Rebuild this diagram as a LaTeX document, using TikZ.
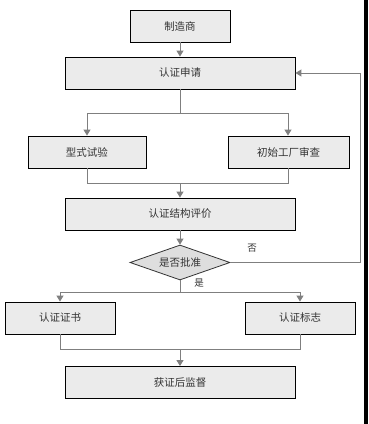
\documentclass[tikz,border=0pt]{standalone}
\usepackage{fontspec}
\setmainfont{Noto Sans CJK SC}
\usetikzlibrary{shapes.geometric,arrows.meta}
\definecolor{boxfill}{HTML}{EBEBEB}
\definecolor{diafill}{HTML}{DEDEDE}
\definecolor{linegray}{HTML}{7F7F7F}
\definecolor{txt}{HTML}{333333}
\tikzset{
  procbox/.style={draw=black, line width=0.9pt, fill=boxfill, minimum height=32pt, inner sep=0pt, font=\fontsize{10.5}{12}\selectfont, text=txt},
  decide/.style={draw=black!80, line width=0.8pt, fill=diafill, diamond, minimum width=100pt, minimum height=35pt, inner sep=0pt, aspect=2.86, font=\fontsize{10.5}{12}\selectfont, text=txt},
  conn/.style={draw=linegray, line width=1pt},
  arr/.style={conn, -{Triangle[length=6pt,width=7pt]}},
  lbl/.style={font=\fontsize{9.5}{11}\selectfont, text=txt, inner sep=0pt}
}
\begin{document}
\begin{tikzpicture}[x=1pt,y=-1pt]
\useasboundingbox (0,0) rectangle (368,424);
\fill[white] (0,0) rectangle (368,424);
\fill[black] (364,0) rectangle (368,424);
\node[procbox, minimum width=100pt] (mfr) at (180,26) {制造商};
\node[procbox, minimum width=230pt] (apply) at (180,73) {认证申请};
\node[procbox, minimum width=118pt] (type) at (87,152) {型式试验};
\node[procbox, minimum width=121pt] (fact) at (288.5,152) {初始工厂审查};
\node[procbox, minimum width=230pt] (eval) at (180,214) {认证结构评价};
\node[decide] (ok) at (180,262.5) {是否批准};
\node[procbox, minimum width=110pt] (cert) at (60,318) {认证证书};
\node[procbox, minimum width=110pt] (mark) at (300,318) {认证标志};
\node[procbox, minimum width=230pt] (sup) at (180,382.5) {获证后监督};
\coordinate (s1) at (180,113);
\coordinate (m1) at (180,183);
\coordinate (s2) at (180,292);
\coordinate (m2) at (180,349);
\coordinate (fb) at (360,262.5);
\draw[arr] (mfr) -- (apply);
\draw[conn] (apply) -- (s1);
\draw[arr] (s1) -| (type);
\draw[arr] (s1) -| (fact.north -| 288,0);
\draw[conn] (type) |- (m1);
\draw[conn] (fact.south -| 288,0) |- (m1);
\draw[arr] (m1) -- (eval);
\draw[arr] (eval) -- (ok);
\draw[arr] (ok.east) -- (fb) |- (apply.east);
\draw[conn] (ok.south) -- (s2);
\draw[arr] (s2) -| (cert);
\draw[arr] (s2) -| (mark);
\draw[conn] (cert) |- (m2);
\draw[conn] (mark) |- (m2);
\draw[arr] (m2) -- (sup);
\node[lbl] (no) at (252,248) {否};
\node[lbl] (yes) at (199,283) {是};
\end{tikzpicture}
\end{document}
